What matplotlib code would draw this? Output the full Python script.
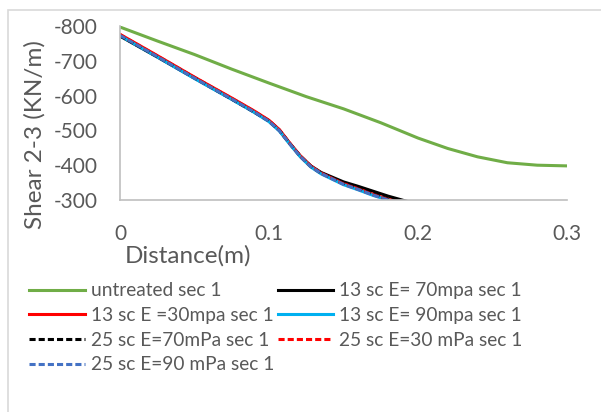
import numpy as np
import matplotlib
matplotlib.use('Agg')
import matplotlib.pyplot as plt
from matplotlib.patches import Rectangle

plt.rcParams['font.family'] = ['Lato', 'DejaVu Sans']
plt.rcParams['axes.unicode_minus'] = False

# distance (m) and shear 2-3 (KN/m), section 1
x_untreated = [0, 0.025, 0.05, 0.075, 0.1, 0.125, 0.15, 0.175, 0.2, 0.22, 0.24, 0.26, 0.28, 0.3]
untreated = [-797, -757, -718, -676, -636, -597, -562, -522, -478, -448, -424, -407, -400, -398]

x_sc = [0, 0.025, 0.05, 0.075, 0.09, 0.1, 0.107, 0.114, 0.121, 0.128, 0.135, 0.15, 0.16, 0.17, 0.18, 0.19, 0.2, 0.22]
sc13_70 = [-771, -711, -650, -590, -553, -527, -500, -462, -426, -398, -379, -352, -339, -325, -311, -299, -288, -270]
sc13_30 = [-776, -715, -653, -593, -556, -529, -502, -463, -427, -398, -377, -347, -332, -316, -302, -291, -281, -264]
sc13_90 = [-772, -711, -649, -589, -552, -525, -498, -460, -424, -395, -375, -344, -329, -313, -300, -289, -279, -262]
sc25_70 = [-772, -712, -651, -590, -553, -527, -500, -462, -426, -397, -377, -348, -333, -317, -303, -292, -282, -265]
sc25_30 = [-775, -714, -652, -592, -555, -528, -501, -462, -426, -397, -377, -346, -331, -315, -301, -290, -280, -263]
sc25_90 = [-773, -712, -650, -590, -553, -526, -499, -461, -425, -396, -376, -345, -330, -314, -300, -289, -279, -262]

labels = ['untreated sec 1', '13 sc E= 70mpa sec 1', '13 sc E =30mpa sec 1',
          '13 sc E= 90mpa sec 1', '25 sc E=70mPa sec 1', '25 sc E=30 mPa sec 1',
          '25 sc E=90 mPa sec 1']

fig = plt.figure(figsize=(6.01, 4.12), dpi=100)
ax = fig.add_axes([0.1997, 0.5146, 0.7437, 0.4223])

lw = 2.2
dash = (0, (2, 1))
h = []
h += ax.plot(x_untreated, untreated, color='#70AD47', lw=lw, label=labels[0])
h += ax.plot(x_sc, sc13_70, color='black', lw=lw, label=labels[1])
h += ax.plot(x_sc, sc13_30, color='#FF0000', lw=lw, label=labels[2])
h += ax.plot(x_sc, sc13_90, color='#00B0F0', lw=lw, label=labels[3])
h += ax.plot(x_sc, sc25_70, color='black', lw=lw, ls=dash, label=labels[4])
h += ax.plot(x_sc, sc25_30, color='#FF0000', lw=lw, ls=dash, label=labels[5])
h += ax.plot(x_sc, sc25_90, color='#4472C4', lw=lw, ls=dash, label=labels[6])

ax.set_xlim(0, 0.3)
ax.set_ylim(-300, -800)
ax.set_xticks([0, 0.1, 0.2, 0.3])
ax.set_xticklabels(['0', '0.1', '0.2', '0.3'])
ax.set_yticks([-800, -700, -600, -500, -400, -300])
ax.tick_params(axis='y', length=0, labelsize=15, colors='#595959', pad=16)
ax.tick_params(axis='x', length=0, labelsize=15, colors='#595959', pad=17)
for s in ['top', 'right']:
    ax.spines[s].set_visible(False)
for s in ['left', 'bottom']:
    ax.spines[s].set_color('#BFBFBF')
    ax.spines[s].set_linewidth(1.2)

ax.set_ylabel('Shear 2-3 (KN/m)', fontsize=17.5, color='#595959')
ax.yaxis.set_label_coords(-0.167, 0.376)
fig.text(125 / 601, 1 - 263 / 412, 'Distance(m)', fontsize=17.5, color='#595959',
         ha='left', va='baseline')

# legend is filled row by row in the reference
order = [0, 2, 4, 6, 1, 3, 5]
fig.legend([h[i] for i in order], [labels[i] for i in order],
           loc='upper left', bbox_to_anchor=(12 / 601, 1 - 265 / 412), ncol=2,
           frameon=False, fontsize=13.8, handlelength=2.9, columnspacing=0.2,
           labelspacing=0.4, handletextpad=0.3, labelcolor='#595959')

fig.patches.append(Rectangle((8 / 601, -0.1), 1.2, 1 - 10 / 412 + 0.1,
                             transform=fig.transFigure, fill=False,
                             edgecolor='#D9D9D9', lw=1.2))

plt.savefig('out.png', dpi=100)
plt.close()
